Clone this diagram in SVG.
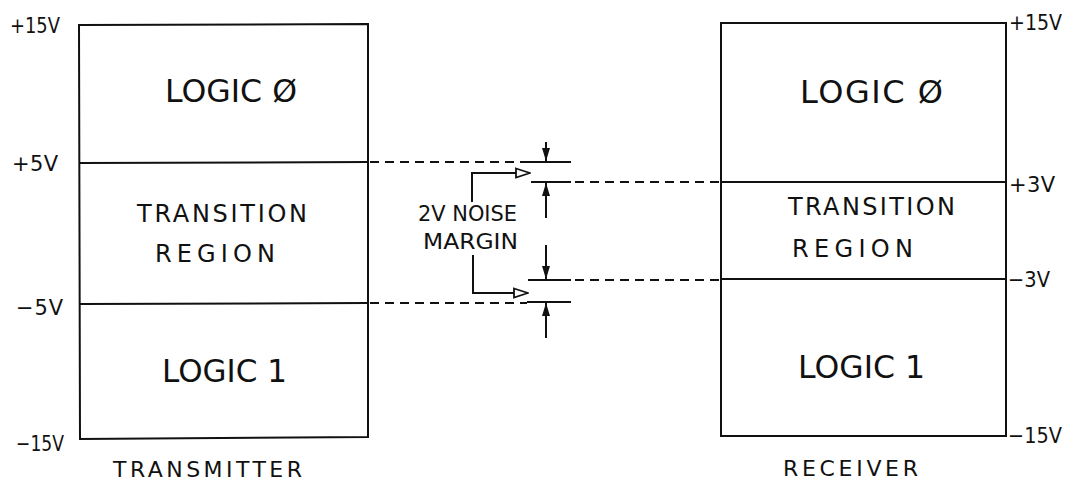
<svg xmlns="http://www.w3.org/2000/svg" width="1071" height="481" viewBox="0 0 1071 481">
<style>
.box{fill:none;stroke:#111;stroke-width:2}
.ln{stroke:#111;stroke-width:2;fill:none}
.dash{stroke:#111;stroke-width:1.8;stroke-dasharray:9 6;fill:none}
.t{font-family:"DejaVu Sans","Liberation Sans",sans-serif;fill:#111}
.big{font-size:32px}
.mid{font-size:24px}
.sm{font-size:22px}
.v{font-size:21px}
</style>
<defs>
<marker id="dim" markerWidth="14" markerHeight="10" refX="13" refY="5" orient="auto" markerUnits="userSpaceOnUse">
<path d="M0,1 L13,5 L0,9 Z" fill="#111"/>
</marker>
<marker id="open" markerWidth="16" markerHeight="12" refX="15" refY="6" orient="auto" markerUnits="userSpaceOnUse">
<path d="M1,1.5 L15,6 L1,10.5 Z" fill="#fff" stroke="#111" stroke-width="1.8"/>
</marker>
</defs>
<rect width="1071" height="481" fill="#fff"/>

<g id="transmitter">
<path class="box" d="M79,25 L368,24 L368,437 L80,439 Z"/>
<line class="ln" x1="79" y1="163" x2="368" y2="162"/>
<line class="ln" x1="80" y1="304" x2="368" y2="303"/>
<text class="t big" x="165" y="102" textLength="132" lengthAdjust="spacingAndGlyphs">LOGIC Ø</text>
<text class="t mid" x="137" y="222" textLength="170" lengthAdjust="spacing">TRANSITION</text>
<text class="t mid" x="155" y="262" textLength="120" lengthAdjust="spacing">REGION</text>
<text class="t big" x="162" y="382" textLength="125" lengthAdjust="spacingAndGlyphs">LOGIC 1</text>
<text class="t sm" x="113" y="477" textLength="189" lengthAdjust="spacing">TRANSMITTER</text>
<text class="t v" x="10" y="33" textLength="50" lengthAdjust="spacingAndGlyphs">+15V</text>
<text class="t v" x="12" y="171" textLength="46" lengthAdjust="spacing">+5V</text>
<text class="t v" x="16" y="315" textLength="47" lengthAdjust="spacing">−5V</text>
<text class="t v" x="16" y="451" textLength="48" lengthAdjust="spacingAndGlyphs">−15V</text>
</g>

<g id="receiver">
<path class="box" d="M721,23 L1006,23 L1006,436 L721,436 Z"/>
<line class="ln" x1="721" y1="182" x2="1006" y2="182"/>
<line class="ln" x1="721" y1="279" x2="1006" y2="279"/>
<text class="t big" x="800" y="103" textLength="143" lengthAdjust="spacing">LOGIC Ø</text>
<text class="t mid" x="788" y="215" textLength="167" lengthAdjust="spacing">TRANSITION</text>
<text class="t mid" x="792" y="257" textLength="121" lengthAdjust="spacing">REGION</text>
<text class="t big" x="798" y="378" textLength="127" lengthAdjust="spacingAndGlyphs">LOGIC 1</text>
<text class="t sm" x="783" y="476" textLength="135" lengthAdjust="spacing">RECEIVER</text>
<text class="t v" x="1009" y="30" textLength="53" lengthAdjust="spacingAndGlyphs">+15V</text>
<text class="t v" x="1009" y="192" textLength="46" lengthAdjust="spacing">+3V</text>
<text class="t v" x="1008" y="287" textLength="42" lengthAdjust="spacingAndGlyphs">−3V</text>
<text class="t v" x="1008" y="443" textLength="54" lengthAdjust="spacingAndGlyphs">−15V</text>
</g>

<g id="noise-margin">
<text class="t sm" x="418" y="221" textLength="99" lengthAdjust="spacingAndGlyphs">2V NOISE</text>
<text class="t sm" x="423" y="249" textLength="95" lengthAdjust="spacingAndGlyphs">MARGIN</text>
</g>

<g id="connectors">
<line class="dash" x1="370" y1="162" x2="527" y2="162"/>
<line class="ln" x1="527" y1="162" x2="571" y2="162"/>
<line class="ln" x1="531" y1="182" x2="571" y2="182"/>
<line class="dash" x1="575" y1="182" x2="720" y2="182"/>
<line class="ln" x1="528" y1="280" x2="571" y2="280"/>
<line class="dash" x1="575" y1="280" x2="720" y2="280"/>
<line class="dash" x1="370" y1="303" x2="527" y2="303"/>
<line class="ln" x1="527" y1="302" x2="571" y2="302"/>

<line class="ln" x1="546" y1="142" x2="546" y2="161" marker-end="url(#dim)"/>
<line class="ln" x1="546" y1="218" x2="546" y2="183" marker-end="url(#dim)"/>
<line class="ln" x1="546" y1="245" x2="546" y2="279" marker-end="url(#dim)"/>
<line class="ln" x1="546" y1="338" x2="546" y2="303" marker-end="url(#dim)"/>

<path class="ln" d="M472,202 L472,173 L530,173" marker-end="url(#open)"/>
<path class="ln" d="M473,255 L473,293 L528,293" marker-end="url(#open)"/>
</g>
</svg>
